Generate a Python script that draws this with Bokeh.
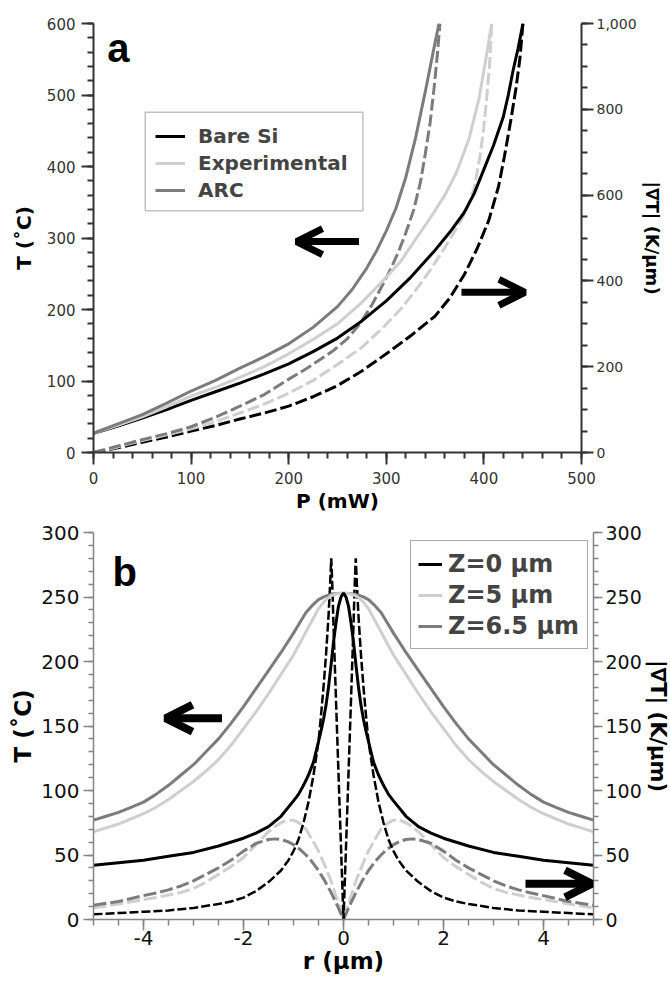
from bokeh.plotting import figure
from bokeh.layouts import column
from bokeh.models import (Range1d, LinearAxis, FixedTicker, Legend, LegendItem, BoxAnnotation,
                          Arrow, OpenHead, Label, NumeralTickFormatter)
from bokeh.embed import file_html
from bokeh.resources import INLINE

# ---------------- data: panel a (T and |grad T| vs laser power) ----------------
P_bare = [0, 25, 50, 75, 100, 125, 150, 175, 200, 225, 250, 275, 300, 325, 350, 365, 380, 390,
          400, 410, 420, 425, 430, 435, 440]
T_bare = [27, 37, 48, 60, 73, 85, 97, 110, 124, 141, 160, 184, 212, 245, 283, 308, 336, 362,
          396, 430, 470, 500, 535, 565, 600]

P_exp = [0, 25, 50, 75, 100, 125, 150, 175, 200, 225, 250, 275, 300, 315, 330, 345, 360, 372,
         385, 395, 402, 405, 408]
T_exp = [27, 38, 50, 64, 79, 91, 105, 120, 138, 158, 180, 210, 245, 268, 298, 328, 360, 392,
         440, 495, 550, 575, 600]

P_arc = [0, 25, 50, 75, 100, 125, 150, 175, 200, 225, 250, 265, 280, 290, 300, 310, 320, 330,
         340, 348, 354]
T_arc = [27, 40, 53, 69, 86, 101, 118, 134, 152, 175, 204, 228, 258, 282, 310, 342, 385, 440,
         505, 560, 600]

Pg_bare = [0, 25, 50, 75, 100, 125, 150, 175, 200, 225, 250, 275, 300, 325, 350, 365, 380, 393,
           405, 415, 421, 428, 433, 437, 440]
G_bare = [0, 11, 24, 36, 50, 63, 78, 92, 108, 130, 156, 190, 230, 272, 318, 360, 415, 475,
          541, 620, 690, 780, 851, 920, 1000]

Pg_exp = [0, 25, 50, 75, 100, 125, 150, 175, 200, 225, 250, 275, 297, 315, 330, 345, 360, 370,
          381, 390, 396, 400, 403, 406, 408]
G_exp = [0, 13, 28, 41, 55, 72, 92, 113, 138, 168, 205, 245, 292, 335, 378, 425, 478, 515,
         560, 615, 690, 760, 830, 910, 1000]

Pg_arc = [0, 25, 50, 75, 100, 125, 150, 175, 195, 220, 246, 260, 273, 285, 297, 305, 313, 320,
          328, 335, 340, 345, 349, 352, 355]
G_arc = [0, 15, 30, 44, 60, 82, 108, 135, 164, 198, 238, 265, 300, 343, 394, 430, 471, 512,
         565, 630, 697, 770, 851, 920, 1000]

a_xticks = [0, 100, 200, 300, 400, 500]
a_xminor = list(range(0, 501, 20))
a_yticks = [0, 100, 200, 300, 400, 500, 600]
a_yminor = list(range(0, 601, 20))
a_y2ticks = [0, 200, 400, 600, 800, 1000]
a_y2minor = list(range(0, 1001, 50))
a_labels = ["Bare Si", "Experimental", "ARC"]

# ---------------- data: panel b (radial profiles, read for r >= 0; the profiles are symmetric) ----------------
r_z0 = [0, 0.05, 0.1, 0.15, 0.2, 0.25, 0.3, 0.35, 0.4, 0.45, 0.5, 0.6, 0.7, 0.8, 0.9, 1, 1.25, 1.5,
        1.75, 2, 2.5, 3, 3.5, 4, 4.5, 5]
T_z0 = [253, 250, 243, 230, 215, 197, 180, 166, 155, 146, 138, 122, 112, 104, 97, 92, 80, 72,
        67, 63, 57, 52, 49, 46, 44, 42]

r_z5 = [0, 0.125, 0.25, 0.375, 0.5, 0.625, 0.75, 0.875, 1, 1.25, 1.5, 1.75, 2, 2.25, 2.5, 2.75,
        3, 3.25, 3.5, 3.75, 4, 4.25, 4.5, 4.75, 5]
T_z5 = [253, 252.5, 251, 247, 241, 232, 223, 214, 205, 190, 175, 161, 148, 135, 124, 115,
        107, 100, 93, 87, 82, 78, 74, 71, 68]

r_z65 = [0, 0.125, 0.25, 0.375, 0.5, 0.625, 0.75, 0.875, 1, 1.25, 1.5, 1.75, 2, 2.25, 2.5, 2.75,
         3, 3.25, 3.5, 3.75, 4, 4.25, 4.5, 4.75, 5]
T_z65 = [253, 252.8, 252, 250.5, 248, 243.5, 238, 230, 222, 207, 193, 179, 165, 152, 140, 130,
         120, 112, 104, 97, 91, 87, 83, 80, 77]

rg_z0 = [0, 0.05, 0.1, 0.15, 0.2, 0.22, 0.245, 0.27, 0.3, 0.35, 0.4, 0.45, 0.5, 0.6, 0.7, 0.8,
         0.9, 1, 1.1, 1.25, 1.5, 1.75, 2, 2.25, 2.5, 3, 3.5, 4, 4.5, 5]
G_z0 = [0, 56, 113, 170, 228, 255, 280, 258, 235, 205, 180, 158, 138, 112, 91, 75,
        62, 53, 46, 38, 29, 22, 17, 14, 12, 9, 7, 6, 5, 4]

rg_z5 = [0, 0.125, 0.25, 0.375, 0.5, 0.625, 0.75, 0.875, 1, 1.125, 1.25, 1.375, 1.5, 1.75, 2,
         2.25, 2.5, 2.75, 3, 3.25, 3.5, 3.75, 4, 4.5, 5]
G_z5 = [0, 15, 30, 42, 53, 62, 70, 74.5, 77, 77, 75, 72, 68, 58, 48,
        41, 35, 29, 24, 21, 19, 17, 15.5, 12, 9]

rg_z65 = [0, 0.125, 0.25, 0.375, 0.5, 0.625, 0.75, 0.875, 1, 1.125, 1.25, 1.375, 1.5, 1.75, 2,
          2.25, 2.5, 2.75, 3, 3.25, 3.5, 3.75, 4, 4.5, 5]
G_z65 = [0, 11, 21, 30, 38, 44.5, 50, 54.5, 58, 60.5, 62, 62.5, 62, 59, 53,
         46, 40, 35, 30, 26, 23, 20.5, 18.5, 14, 11]

b_xticks = [-4, -2, 0, 2, 4]
b_xminor = [x * 0.5 for x in range(-10, 11)]
b_yticks = [0, 50, 100, 150, 200, 250, 300]
b_yminor = list(range(0, 301, 10))
b_labels = ["Z=0 μm", "Z=5 μm", "Z=6.5 μm"]


def mirror(r, v):
    return [-x for x in reversed(r[1:])] + list(r), list(reversed(v[1:])) + list(v)


BLACK = "#000000"
LIGHT = "#cfcfcf"
GREY = "#7c7c7c"
FONT = "DejaVu Sans"


def style_axis(ax, color, lw, t_major, t_minor, fsize, lsize, lstand, astand, lab_color):
    ax.axis_line_color = color
    ax.axis_line_width = lw
    ax.major_tick_line_color = color
    ax.major_tick_line_width = lw
    ax.minor_tick_line_color = color
    ax.minor_tick_line_width = lw
    ax.major_tick_in = 0
    ax.minor_tick_in = 0
    ax.major_tick_out = t_major
    ax.minor_tick_out = t_minor
    ax.major_label_text_font = FONT
    ax.major_label_text_font_size = fsize
    ax.major_label_text_color = lab_color
    ax.major_label_standoff = lstand
    ax.axis_label_text_font = FONT
    ax.axis_label_text_font_style = "bold"
    ax.axis_label_text_font_size = lsize
    ax.axis_label_text_color = "#000000"
    ax.axis_label_standoff = astand


# ================= panel a =================
pa = figure(frame_width=488, frame_height=429, x_range=Range1d(0, 500), y_range=Range1d(0, 600),
            output_backend="svg", toolbar_location=None,
            min_border_left=93, min_border_top=23, min_border_right=10, min_border_bottom=66)
pa.extra_y_ranges = {"grad": Range1d(0, 1000)}
pa.outline_line_color = None
pa.grid.visible = False

dash_a = "12 4"
pa.line(Pg_bare, G_bare, y_range_name="grad", line_color=BLACK, line_width=3, line_dash=dash_a)
pa.line(Pg_exp, G_exp, y_range_name="grad", line_color=LIGHT, line_width=3, line_dash=dash_a)
pa.line(Pg_arc, G_arc, y_range_name="grad", line_color=GREY, line_width=3, line_dash=dash_a)
ra1 = pa.line(P_bare, T_bare, line_color=BLACK, line_width=3)
ra2 = pa.line(P_exp, T_exp, line_color=LIGHT, line_width=3)
ra3 = pa.line(P_arc, T_arc, line_color=GREY, line_width=3)

pa.xaxis.ticker = FixedTicker(ticks=a_xticks, minor_ticks=a_xminor)
pa.yaxis.ticker = FixedTicker(ticks=a_yticks, minor_ticks=a_yminor)
pa.xaxis.axis_label = "P (mW)"
pa.yaxis.axis_label = "T (˚C)"
style_axis(pa.xaxis[0], "#333333", 2, 12, 6, "15px", "20px", 7, 2, "#333333")
style_axis(pa.yaxis[0], "#333333", 2, 12, 6, "15px", "20px", 6, 8, "#333333")

ax_a2 = LinearAxis(y_range_name="grad", axis_label="|∇T| (K/μm)",
                   ticker=FixedTicker(ticks=a_y2ticks, minor_ticks=a_y2minor),
                   formatter=NumeralTickFormatter(format="0,0"))
style_axis(ax_a2, "#333333", 2, 12, 6, "14px", "18px", 3, 2, "#333333")
pa.add_layout(ax_a2, "right")

# legend frame (drawn as a box so it spans the bold labels fully)
pa.add_layout(BoxAnnotation(left=53, right=276, bottom=338, top=476, fill_color="white",
                            fill_alpha=1, line_color="#333333", line_width=1.5))
leg_a = Legend(items=[LegendItem(label=a_labels[0], renderers=[ra1]),
                      LegendItem(label=a_labels[1], renderers=[ra2]),
                      LegendItem(label=a_labels[2], renderers=[ra3])],
               location=(53, 240), label_text_font=FONT, label_text_font_style="bold",
               label_text_font_size="20px", glyph_width=30, glyph_height=20, label_height=27,
               label_standoff=13, spacing=0, padding=9, margin=0,
               border_line_color="#333333", border_line_alpha=0, background_fill_alpha=0)
pa.add_layout(leg_a)

pa.add_layout(Arrow(end=OpenHead(size=26, line_width=7, line_color=BLACK),
                    x_start=272, y_start=295, x_end=208, y_end=295,
                    line_width=7, line_color=BLACK))
pa.add_layout(Arrow(end=OpenHead(size=26, line_width=7, line_color=BLACK),
                    x_start=377, y_start=224, x_end=442, y_end=224,
                    line_width=7, line_color=BLACK))
pa.add_layout(Label(x=14, y=566, text="a", text_font="Liberation Sans", text_font_style="bold",
                    text_font_size="40px", text_color=BLACK, text_baseline="alphabetic"))

# ================= panel b =================
pb = figure(frame_width=500, frame_height=387, x_range=Range1d(-5, 5), y_range=Range1d(0, 300),
            output_backend="svg", toolbar_location=None,
            min_border_left=93, min_border_top=14, min_border_right=10, min_border_bottom=10)
pb.extra_y_ranges = {"grad": Range1d(0, 300)}
pb.outline_line_color = None
pb.grid.visible = False

x, y = mirror(rg_z5, G_z5)
pb.line(x, y, y_range_name="grad", line_color=LIGHT, line_width=3, line_dash="13 4")
x, y = mirror(rg_z65, G_z65)
pb.line(x, y, y_range_name="grad", line_color=GREY, line_width=3, line_dash="13 4")
x, y = mirror(rg_z0, G_z0)
pb.line(x, y, y_range_name="grad", line_color=BLACK, line_width=2.5, line_dash="9 3")
x, y = mirror(r_z65, T_z65)
rb3 = pb.line(x, y, line_color=GREY, line_width=3)
x, y = mirror(r_z5, T_z5)
rb2 = pb.line(x, y, line_color=LIGHT, line_width=3)
x, y = mirror(r_z0, T_z0)
rb1 = pb.line(x, y, line_color=BLACK, line_width=3)

pb.xaxis.ticker = FixedTicker(ticks=b_xticks, minor_ticks=b_xminor)
pb.xaxis.major_label_overrides = {t: str(t) for t in b_xticks}
pb.yaxis.ticker = FixedTicker(ticks=b_yticks, minor_ticks=b_yminor)
pb.xaxis.axis_label = "r (μm)"
pb.yaxis.axis_label = "T (˚C)"
style_axis(pb.xaxis[0], "#858585", 1.5, 11, 6, "20px", "23px", 0, 0, "#111111")
style_axis(pb.yaxis[0], "#858585", 1.5, 10, 5, "20px", "23px", 4, 2, "#111111")

ax_b2 = LinearAxis(y_range_name="grad", axis_label="|∇T| (K/μm)",
                   ticker=FixedTicker(ticks=b_yticks, minor_ticks=b_yminor))
style_axis(ax_b2, "#858585", 1.5, 9, 5, "19px", "21px", 3, 1, "#111111")
pb.add_layout(ax_b2, "right")

leg_b = Legend(items=[LegendItem(label=b_labels[0], renderers=[rb1]),
                      LegendItem(label=b_labels[1], renderers=[rb2]),
                      LegendItem(label=b_labels[2], renderers=[rb3])],
               location=(317, 270), label_text_font=FONT, label_text_font_style="bold",
               label_text_font_size="24px", glyph_width=24, glyph_height=20, label_height=31,
               label_width=132, label_standoff=6, spacing=0, padding=7, margin=0,
               border_line_color="#555555", border_line_width=1.5, background_fill_alpha=1)
pb.add_layout(leg_b)

pb.add_layout(Arrow(end=OpenHead(size=27, line_width=8, line_color=BLACK),
                    x_start=-2.43, y_start=156, x_end=-3.56, y_end=156,
                    line_width=8, line_color=BLACK))
pb.add_layout(Arrow(end=OpenHead(size=27, line_width=8, line_color=BLACK),
                    x_start=3.64, y_start=27.7, x_end=4.97, y_end=27.7,
                    line_width=8, line_color=BLACK))
pb.add_layout(Label(x=-4.62, y=269, text="b", text_font="Liberation Sans", text_font_style="bold",
                    text_font_size="40px", text_color=BLACK, text_baseline="alphabetic"))

layout = column(pa, pb)
open("out.html", "w").write(file_html(layout, INLINE))
